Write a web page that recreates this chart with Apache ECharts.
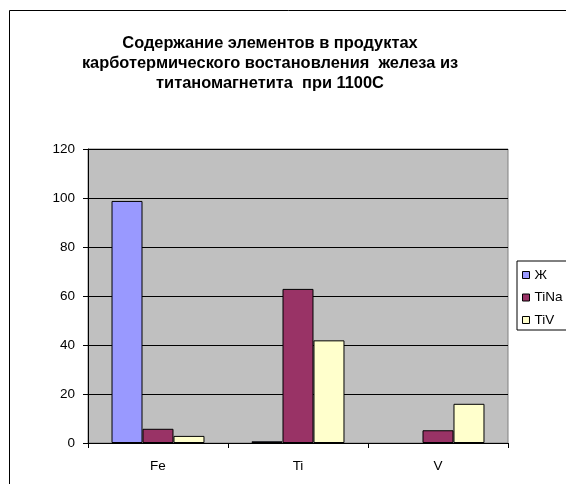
<!DOCTYPE html>
<html>
<head>
<meta charset="utf-8">
<script src="https://cdn.jsdelivr.net/npm/echarts@6/dist/echarts.min.js"></script>
<style>
html, body { margin: 0; padding: 0; background: #fff; }
#chart { width: 566px; height: 484px; }
</style>
</head>
<body>
<div id="chart"></div>
<script>
// Element content in carbothermic reduction products
const categories = ['Fe', 'Ti', 'V'];
const seriesNames = ['Ж', 'TiNa', 'TiV'];
const valuesZh = [98.8, 0.7, null];
const valuesTiNa = [5.8, 62.9, 5.2];
const valuesTiV = [2.9, 41.9, 16.0];
const yTicks = [0, 20, 40, 60, 80, 100, 120];

const titleText = 'Содержание элементов в продуктах\nкарботермического востановления  железа из\nтитаномагнетита  при 1100С';

const colors = ['#9999ff', '#993366', '#ffffcc'];
const font = 'Liberation Sans, Arial, sans-serif';

const chart = echarts.init(document.getElementById('chart'), null, { renderer: 'canvas' });

const allValues = [valuesZh, valuesTiNa, valuesTiV];

chart.setOption({
  animation: false,
  backgroundColor: '#fff',
  graphic: [{
    type: 'rect',
    shape: { x: 9.5, y: 10.5, width: 700, height: 700 },
    style: { fill: 'none', stroke: '#000', lineWidth: 1 },
    silent: true,
    z: -1
  }],
  title: {
    text: titleText,
    left: 265,
    textAlign: 'center',
    top: 28,
    textStyle: {
      fontFamily: font,
      fontSize: 16.4,
      fontWeight: 'bold',
      color: '#000',
      lineHeight: 20
    }
  },
  legend: {
    orient: 'vertical',
    left: 517,
    top: 261,
    data: seriesNames,
    icon: 'rect',
    itemWidth: 7,
    itemHeight: 7,
    itemGap: 6.5,
    padding: [6, 20, 2, 5],
    borderColor: '#000',
    borderWidth: 1,
    backgroundColor: '#fff',
    itemStyle: { borderColor: '#000', borderWidth: 1 },
    textStyle: { fontFamily: font, fontSize: 13.5, color: '#000', lineHeight: 16 }
  },
  grid: {
    left: 88,
    top: 149,
    width: 420,
    height: 294,
    show: true,
    backgroundColor: '#c0c0c0',
    borderColor: '#808080',
    borderWidth: 1
  },
  xAxis: {
    type: 'category',
    data: categories,
    axisLine: { lineStyle: { color: '#000', width: 1 } },
    axisTick: { show: true, length: 5, lineStyle: { color: '#000' } },
    axisLabel: { fontFamily: font, fontSize: 13.5, color: '#000', margin: 16 },
    splitLine: { show: false }
  },
  yAxis: {
    type: 'value',
    min: yTicks[0],
    max: yTicks[yTicks.length - 1],
    interval: yTicks[1] - yTicks[0],
    axisLine: { show: true, lineStyle: { color: '#000', width: 1 } },
    axisTick: { show: true, length: 5, lineStyle: { color: '#000' } },
    axisLabel: { fontFamily: font, fontSize: 13.5, color: '#000', margin: 13 },
    splitLine: { show: true, lineStyle: { color: '#000', width: 1 } }
  },
  series: seriesNames.map((name, i) => ({
    name: name,
    type: 'bar',
    data: allValues[i],
    barGap: '0%',
    barCategoryGap: '33.6%',
    itemStyle: { color: colors[i], borderColor: '#000', borderWidth: 1 }
  }))
});
</script>
</body>
</html>
